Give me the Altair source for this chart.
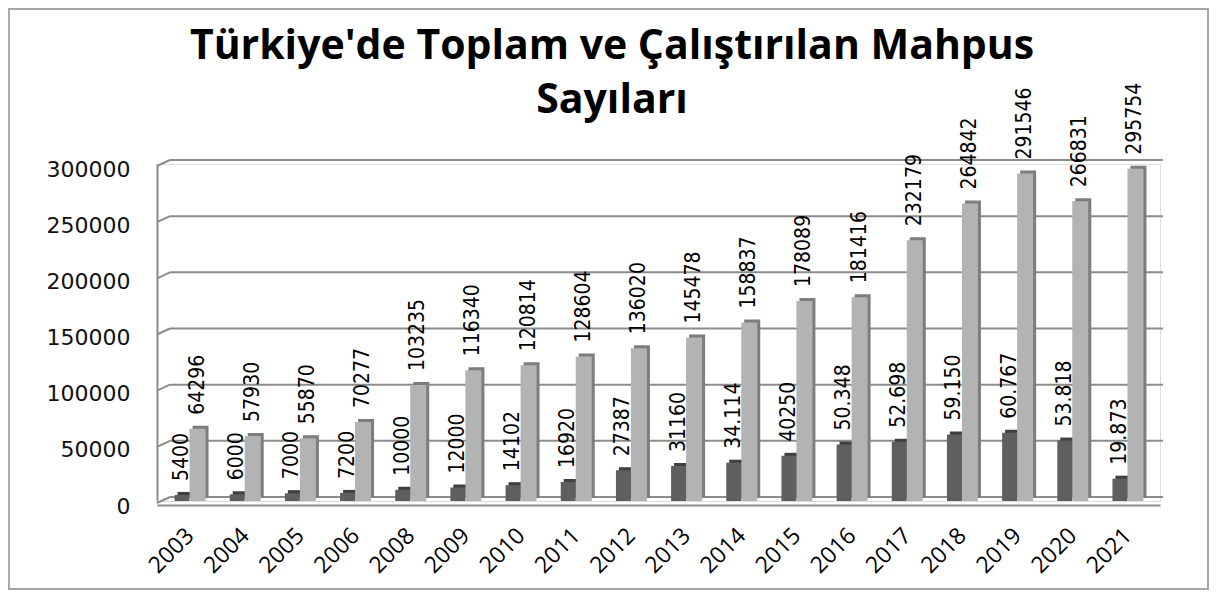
import altair as alt
import pandas as pd

years = ["2003", "2004", "2005", "2006", "2008", "2009", "2010", "2011", "2012",
         "2013", "2014", "2015", "2016", "2017", "2018", "2019", "2020", "2021"]
calisan = [5400, 6000, 7000, 7200, 10000, 12000, 14102, 16920, 27387,
           31160, 34114, 40250, 50348, 52698, 59150, 60767, 53818, 19873]
calisan_labels = ["5400", "6000", "7000", "7200", "10000", "12000", "14102", "16920", "27387",
                  "31160", "34.114", "40250", "50.348", "52.698", "59.150", "60.767", "53.818", "19.873"]
toplam = [64296, 57930, 55870, 70277, 103235, 116340, 120814, 128604, 136020,
          145478, 158837, 178089, 181416, 232179, 264842, 291546, 266831, 295754]
toplam_labels = ["64296", "57930", "55870", "70277", "103235", "116340", "120814", "128604", "136020",
                 "145478", "158837", "178089", "181416", "232179", "264842", "291546", "266831", "295754"]
y_ticks = [0, 50000, 100000, 150000, 200000, 250000, 300000]
title_lines = ["Türkiye'de Toplam ve Çalıştırılan Mahpus", "Sayıları"]

W, H = 1003, 337
GRID = "#8c8c8c"
LABEL_FONT = "DejaVu Sans Condensed, DejaVu Sans, sans-serif"

df = pd.DataFrame({"year": years, "calisan": calisan, "calisan_lbl": calisan_labels,
                   "toplam": toplam, "toplam_lbl": toplam_labels})
grid_df = pd.DataFrame({"v": y_ticks})
title_df = pd.DataFrame({"t": ["\n".join(title_lines)]})

yscale = alt.Scale(domain=[0, 300000], nice=False)
xscale = alt.Scale(paddingInner=0.44, paddingOuter=0.31)
xaxis = alt.Axis(title=None, labelAngle=-45, labelFont="Open Sans", labelFontSize=23,
                 labelColor="black", ticks=False, domain=True, domainColor=GRID,
                 domainWidth=2, offset=4, labelPadding=19, labelOffset=-7)
yaxis = alt.Axis(title=None, values=y_ticks, grid=False, ticks=False, domain=True,
                 domainColor=GRID, domainWidth=2, labelFont="DejaVu Sans", labelFontSize=22,
                 labelColor="#111111", labelPadding=27, labelOffset=5, format="d")

X = alt.X("year:N", sort=years, scale=xscale, axis=xaxis)

base = alt.Chart(df)

border = alt.Chart(grid_df).mark_rect(fill=None, stroke="#a6a6a6", strokeWidth=1.5).encode(
    x=alt.value(-148.5), x2=alt.value(W + 48), y=alt.value(-155), y2=alt.value(H + 88))

title = alt.Chart(title_df).mark_text(
    font="Open Sans", fontSize=41, fontWeight="bold", color="black", align="center",
    baseline="alphabetic", lineBreak="\n", lineHeight=54).encode(
    text="t:N", x=alt.value(455), y=alt.value(-105))

grid = alt.Chart(grid_df).mark_rule(color=GRID, strokeWidth=2, yOffset=-4).encode(
    y=alt.Y("v:Q", scale=yscale, axis=yaxis),
    x=alt.value(13), x2=alt.value(W + 3))
stubs = alt.Chart(grid_df).mark_rule(color=GRID, strokeWidth=2, yOffset=2, y2Offset=-4).encode(
    y=alt.Y("v:Q", scale=yscale, axis=yaxis), y2="v:Q",
    x=alt.value(0), x2=alt.value(13))

def bars(field, lbl, off, width, front, back):
    yenc = alt.Y(f"{field}:Q", scale=yscale, axis=yaxis)
    b = base.mark_bar(size=width, xOffset=off + 3, yOffset=-3, color=back).encode(x=X, y=yenc)
    f = base.mark_bar(size=width, xOffset=off, color=front).encode(x=X, y=yenc)
    t = base.mark_text(angle=270, align="left", baseline="middle", dx=14, xOffset=off,
                       font=LABEL_FONT, fontSize=21, color="black").encode(
        x=X, y=yenc, text=f"{lbl}:N")
    return b, f, t

db, dfnt, dt = bars("calisan", "calisan_lbl", -7.5, 15, "#5f5f5f", "#404040")
lb, lf, lt = bars("toplam", "toplam_lbl", 8, 16, "#b3b3b3", "#7d7d7d")

chart = alt.layer(border, title, grid, stubs, db, dfnt, lb, lf, dt, lt).properties(
    width=W, height=H,
    autosize=alt.AutoSizeParams(type="none"),
    padding={"left": 149, "top": 156, "right": 49, "bottom": 90},
).configure_view(stroke=None).configure(background="white")

chart.save("out.html", embed_options={"renderer": "svg", "actions": False})
